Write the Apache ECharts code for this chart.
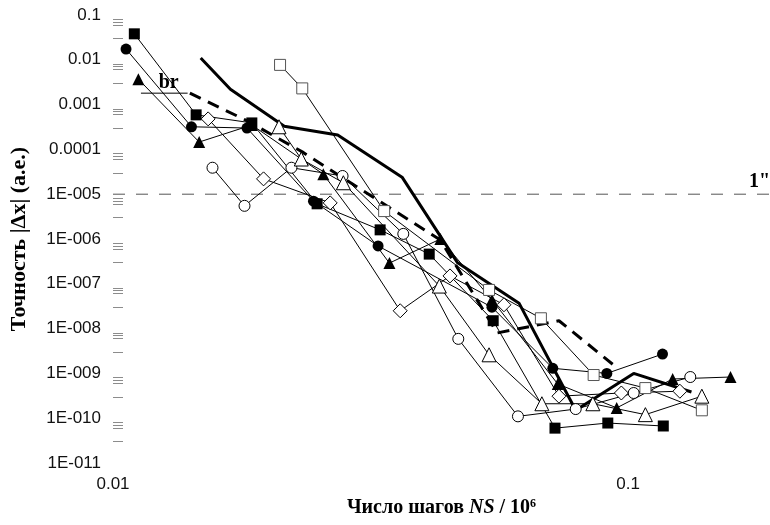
<!DOCTYPE html>
<html>
<head>
<meta charset="utf-8">
<script src="https://cdn.jsdelivr.net/npm/echarts@6/dist/echarts.min.js"></script>
<style>
  html, body { margin: 0; padding: 0; background: #fff; }
  #chart { width: 770px; height: 525px; }
</style>
</head>
<body>
<div id="chart"></div>
<script>
// Accuracy |Δx| of each integrator versus number of steps NS / 10^6

// filled squares
const sqFilledN   = [0.011, 0.0145, 0.0186, 0.0249, 0.033, 0.0411, 0.0547, 0.0721, 0.0913, 0.117];
const sqFilledErr = [0.038, 5.9e-4, 3.9e-4, 6.1e-6, 1.6e-6, 4.6e-7, 1.5e-8, 6.0e-11, 7.8e-11, 6.7e-11];

// filled circles
const ciFilledN   = [0.0106, 0.0142, 0.0182, 0.0245, 0.0327, 0.0544, 0.0714, 0.0909, 0.1166];
const ciFilledErr = [0.0174, 3.2e-4, 3.0e-4, 7.0e-6, 7.0e-7, 3.0e-8, 1.3e-9, 1.0e-9, 2.7e-9];

// filled triangles
const trFilledN   = [0.0112, 0.0147, 0.0186, 0.0256, 0.0344, 0.0432, 0.0544, 0.073, 0.095, 0.122, 0.158];
const trFilledErr = [0.0037, 1.46e-4, 3.5e-4, 2.8e-5, 2.9e-7, 1.0e-6, 4.4e-8, 5.8e-10, 1.7e-10, 7.5e-10, 8.3e-10];

// open squares
const sqOpenN   = [0.0211, 0.0233, 0.0336, 0.0537, 0.0677, 0.0857, 0.108, 0.139];
const sqOpenErr = [0.0077, 0.0023, 4.2e-6, 7.3e-8, 1.7e-8, 9.2e-10, 4.7e-10, 1.5e-10];

// open circles
const ciOpenN   = [0.0156, 0.018, 0.0222, 0.0279, 0.0366, 0.0468, 0.0611, 0.0791, 0.1025, 0.132];
const ciOpenErr = [3.9e-5, 5.5e-6, 3.9e-5, 2.55e-5, 1.3e-6, 5.9e-9, 1.1e-10, 1.6e-10, 3.65e-10, 8.3e-10];

// open triangles
const trOpenN   = [0.021, 0.0232, 0.028, 0.043, 0.0537, 0.068, 0.0854, 0.108, 0.139];
const trOpenErr = [3.2e-4, 6.1e-5, 1.8e-5, 8.9e-8, 2.6e-9, 2.1e-10, 2.1e-10, 1.2e-10, 3.1e-10];

// open diamonds
const diOpenN   = [0.0153, 0.0196, 0.0264, 0.0361, 0.0451, 0.0574, 0.0734, 0.097, 0.126];
const diOpenErr = [4.8e-4, 2.2e-5, 6.4e-6, 2.5e-8, 1.5e-7, 3.4e-8, 3.1e-10, 3.65e-10, 4.0e-10];

// thick solid curve
const thickN   = [0.0148, 0.0169, 0.0215, 0.0273, 0.0364, 0.0466, 0.0614, 0.0791, 0.1025, 0.1327];
const thickErr = [0.011, 0.0022, 3.3e-4, 2.1e-4, 2.4e-5, 3.0e-7, 3.7e-8, 1.5e-10, 1.0e-9, 3.85e-10];

// thick dashed curve "br"
const brN   = [0.0141, 0.0181, 0.0233, 0.0432, 0.0557, 0.0734, 0.0933];
const brErr = [0.0018, 4.5e-4, 8.8e-5, 9.5e-7, 8.0e-9, 1.5e-8, 1.6e-9];

// leader line of the "br" caption
const brLeaderN   = [0.01133, 0.01396];
const brLeaderErr = [0.0018, 0.0018];

// one arcsecond level, drawn across the whole x range
const xMin = 0.01;
const xMax = 0.1885;
const arcsecLevel = 1e-5;
const arcsecText = '1"';

// axis labels and ticks
const xTickLabels = [0.01, 0.1];
const yDecades = [0.1, 0.01, 0.001, 0.0001, 1e-5, 1e-6, 1e-7, 1e-8, 1e-9, 1e-10, 1e-11];
const yMinorMultipliers = [0.8, 0.7, 0.6, 0.3];

const yMinorTicks = [];
yDecades.forEach(d => {
  if (d <= 1e-11) return;
  yMinorMultipliers.forEach(m => yMinorTicks.push(d * m));
});

function pairs(xs, ys) { return xs.map((x, i) => [x, ys[i]]); }

function yLabel(v) {
  const e = Math.round(Math.log10(v));
  if (e >= -4) return v.toFixed(-e);
  return '1E-' + String(-e).padStart(3, '0');
}

function markerSeries(name, xs, ys, symbol, size, filled, stroke) {
  return {
    type: 'line',
    name: name,
    data: pairs(xs, ys),
    symbol: symbol,
    symbolSize: size,
    showSymbol: true,
    lineStyle: { color: '#000', width: 1 },
    itemStyle: {
      color: filled ? '#000' : '#fff',
      borderColor: stroke,
      borderWidth: filled ? 0 : 1
    },
    emphasis: { disabled: true },
    z: 3
  };
}

const serif = 'Liberation Serif';
const sans = 'Liberation Sans';

const chart = echarts.init(document.getElementById('chart'), null, { renderer: 'canvas' });

chart.setOption({
  animation: false,
  backgroundColor: '#fff',
  grid: { left: 110, right: 0, top: 15, bottom: 62, containLabel: false },
  xAxis: {
    type: 'log',
    logBase: 10,
    min: xMin,
    max: xMax,
    axisLine: { show: false },
    axisTick: { show: false },
    splitLine: { show: false },
    axisLabel: {
      customValues: xTickLabels,
      formatter: v => String(+(+v).toPrecision(2)),
      fontFamily: sans,
      fontSize: 17,
      color: '#111',
      margin: 13
    },
    name: '{a|Число шагов }{b|NS}{a| / 10}{c|6}',
    nameLocation: 'middle',
    nameGap: 32,
    nameTextStyle: {
      rich: {
        a: { fontFamily: serif, fontWeight: 'bold', fontSize: 20, color: '#000' },
        b: { fontFamily: serif, fontWeight: 'bold', fontStyle: 'italic', fontSize: 20, color: '#000' },
        c: { fontFamily: serif, fontWeight: 'bold', fontSize: 12, color: '#000', verticalAlign: 'top', padding: [0, 0, 8, 0] }
      }
    }
  },
  yAxis: {
    type: 'log',
    logBase: 10,
    min: 1e-11,
    max: 0.1,
    axisLine: { show: false },
    splitLine: { show: false },
    axisTick: {
      show: true,
      inside: true,
      length: 10,
      customValues: yMinorTicks,
      lineStyle: { color: '#8c8c8c', width: 1 }
    },
    axisLabel: {
      customValues: yDecades,
      formatter: v => yLabel(+v),
      fontFamily: sans,
      fontSize: 17,
      color: '#111',
      margin: 12
    },
    name: 'Точность |Δx| (а.е.)',
    nameLocation: 'middle',
    nameGap: 83,
    nameTextStyle: { fontFamily: serif, fontWeight: 'bold', fontSize: 22, color: '#000' }
  },
  series: [
    {
      type: 'line',
      name: 'arcsec',
      data: [[xMin, arcsecLevel], [xMax, arcsecLevel]],
      symbol: 'none',
      lineStyle: { color: '#555', width: 1, type: [12, 11] },
      emphasis: { disabled: true },
      z: 1,
      endLabel: {
        show: true,
        formatter: arcsecText,
        align: 'right',
        verticalAlign: 'bottom',
        offset: [-8, -2],
        fontFamily: serif,
        fontWeight: 'bold',
        fontSize: 20,
        color: '#000'
      }
    },
    {
      type: 'line',
      name: 'thick',
      data: pairs(thickN, thickErr),
      symbol: 'none',
      lineStyle: { color: '#000', width: 3 },
      emphasis: { disabled: true },
      z: 2
    },
    {
      type: 'line',
      name: 'br',
      data: pairs(brN, brErr),
      symbol: 'none',
      lineStyle: { color: '#000', width: 3, type: [12, 8] },
      emphasis: { disabled: true },
      z: 2
    },
    {
      type: 'line',
      name: 'br-leader',
      data: pairs(brLeaderN, brLeaderErr),
      symbol: 'none',
      lineStyle: { color: '#000', width: 1 },
      emphasis: { disabled: true },
      z: 2,
      endLabel: {
        show: true,
        formatter: 'br',
        offset: [-37, -10],
        fontFamily: serif,
        fontWeight: 'bold',
        fontSize: 20,
        color: '#000'
      }
    },
    markerSeries('sqFilled', sqFilledN, sqFilledErr, 'rect', 11, true, '#000'),
    markerSeries('ciFilled', ciFilledN, ciFilledErr, 'circle', 11, true, '#000'),
    markerSeries('trFilled', trFilledN, trFilledErr, 'triangle', 12, true, '#000'),
    markerSeries('sqOpen', sqOpenN, sqOpenErr, 'rect', 11, false, '#555'),
    markerSeries('ciOpen', ciOpenN, ciOpenErr, 'circle', 11, false, '#000'),
    markerSeries('trOpen', trOpenN, trOpenErr, 'triangle', 14, false, '#000'),
    markerSeries('diOpen', diOpenN, diOpenErr, 'diamond', 14, false, '#000')
  ]
});
</script>
</body>
</html>
